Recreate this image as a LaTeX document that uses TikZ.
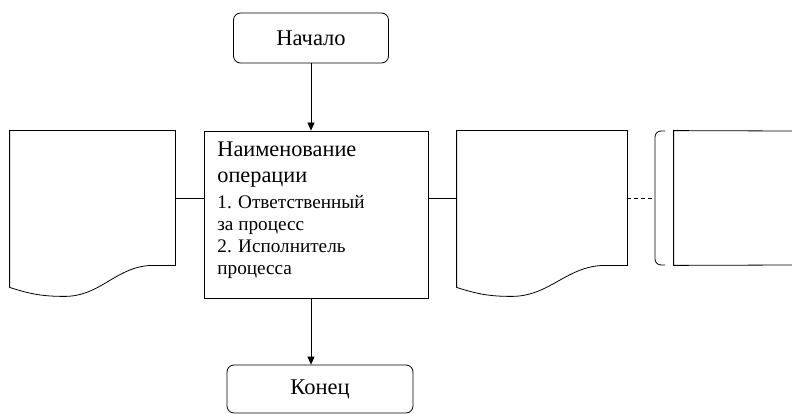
\documentclass[tikz,border=0pt]{standalone}
\usepackage{fontspec}
\setmainfont{Liberation Serif}
\usetikzlibrary{arrows.meta}
\begin{document}
\begin{tikzpicture}[x=1pt,y=-1pt,
  line width=0.8pt,
  terminal/.style={draw, rounded corners=7pt, inner sep=0pt, font=\fontsize{22.5}{26}\selectfont},
  process/.style={draw, inner sep=0pt},
  docarea/.style={inner sep=0pt},
  bigline/.style={anchor=base west, inner sep=0pt, font=\fontsize{22.3}{26}\selectfont},
  smallline/.style={anchor=base west, inner sep=0pt, font=\fontsize{19.2}{22}\selectfont},
  flow/.style={-{Triangle[length=8pt,width=7pt]}},
  link/.style={},
  notelink/.style={dash pattern=on 4pt off 3pt}
]
\useasboundingbox (0,0) rectangle (792,414);

% terminals
\node[terminal, minimum width=155pt, minimum height=50pt] (start) at (311,38) {Начало};
\node[terminal, minimum width=186pt, minimum height=48pt] (stop) at (320,389) {Конец};

% operation box
\node[process, minimum width=224pt, minimum height=167pt] (op) at (316,214.5) {};
\node[bigline] (t1) at (217,157) {Наименование};
\node[bigline] (t2) at (217,183) {операции};
\node[smallline] (t3) at (217,208) {1. Ответственный};
\node[smallline] (t4) at (217,230) {за процесс};
\node[smallline] (t5) at (217,252) {2. Исполнитель};
\node[smallline] (t6) at (217,274) {процесса};

% document areas
\node[docarea, minimum width=165pt, minimum height=134pt] (docL) at (92.5,198) {};
\node[docarea, minimum width=170pt, minimum height=134pt] (docM) at (542,198) {};

% document outlines with wavy bottom edge
\foreach \d in {docL, docM} {
  \draw (\d.north west) -- (\d.north east) -- (\d.south east)
    -- ([xshift=-22pt]\d.south east)
    to[out=180,in=0] ([xshift=55pt,yshift=-31pt]\d.south west)
    to[out=180,in=-18] ([yshift=-22pt]\d.south west)
    -- cycle;
}

% annotation box and its bracket
\node[docarea, minimum width=140pt, minimum height=134pt] (note) at (744,198) {};
\draw (792,131) -- (note.north west) -- (note.south west) -- (792,265);
\coordinate (brtop) at (665,131);
\coordinate (brbot) at (665,265);
\coordinate (brmid) at (655,198);
\draw[rounded corners=6pt] (brtop) -| (brmid) |- (brbot);

% connectors
\draw[flow] (start.south) -- (start.south |- op.north);
\draw[flow] (start.south |- op.south) -- (start.south |- stop.north);
\draw[link] (docL.east) -- (docL.east -| op.west);
\draw[link] (op.east |- docM.west) -- (docM.west);
\draw[notelink] (docM.east) -- (brmid);
\end{tikzpicture}
\end{document}
